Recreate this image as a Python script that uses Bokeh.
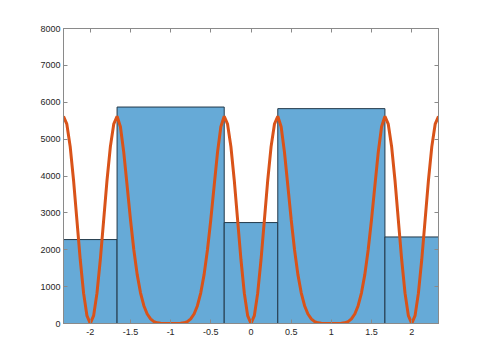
from bokeh.plotting import figure
from bokeh.models import Range1d, LinearAxis, FixedTicker, CustomJSTickFormatter
from bokeh.embed import file_html
from bokeh.resources import INLINE

# Histogram data (non-uniform bin edges)
bin_edges = [-2.3333, -1.6667, -0.3333, 0.3333, 1.6667, 2.3333]
bin_counts = [2276, 5870, 2737, 5827, 2347]

# Overlay curve, values
curve_x = [
    -2.3333, -2.2917, -2.25, -2.2083, -2.1667, -2.125, -2.0833, -2.0417,
    -2.0, -1.9583, -1.9167, -1.875, -1.8333, -1.7917, -1.75, -1.7083,
    -1.6667, -1.625, -1.5833, -1.5417, -1.5, -1.4583, -1.4167, -1.375,
    -1.3333, -1.2917, -1.25, -1.2083, -1.1667, -1.125, -1.0833, -1.0417,
    -1.0, -0.9583, -0.9167, -0.875, -0.8333, -0.7917, -0.75, -0.7083,
    -0.6667, -0.625, -0.5833, -0.5417, -0.5, -0.4583, -0.4167, -0.375,
    -0.3333, -0.2917, -0.25, -0.2083, -0.1667, -0.125, -0.0833, -0.0417,
    0.0,
    0.0417, 0.0833, 0.125, 0.1667, 0.2083, 0.25, 0.2917, 0.3333,
    0.375, 0.4167, 0.4583, 0.5, 0.5417, 0.5833, 0.625, 0.6667,
    0.7083, 0.75, 0.7917, 0.8333, 0.875, 0.9167, 0.9583, 1.0,
    1.0417, 1.0833, 1.125, 1.1667, 1.2083, 1.25, 1.2917, 1.3333,
    1.375, 1.4167, 1.4583, 1.5, 1.5417, 1.5833, 1.625, 1.6667,
    1.7083, 1.75, 1.7917, 1.8333, 1.875, 1.9167, 1.9583, 2.0,
    2.0417, 2.0833, 2.125, 2.1667, 2.2083, 2.25, 2.2917, 2.3333,
]
curve_y = [
    5620, 5406, 4797, 3885, 2810, 1735, 823, 214,
    0, 214, 823, 1735, 2810, 3885, 4797, 5406,
    5620, 5336, 4641, 3741, 2821, 1999, 1332, 832,
    483, 258, 124, 52, 18, 4, 1, 0,
    0, 0, 1, 4, 18, 52, 124, 258,
    483, 832, 1332, 1999, 2821, 3741, 4641, 5336,
    5620, 5406, 4797, 3885, 2810, 1735, 823, 214,
    0,
    214, 823, 1735, 2810, 3885, 4797, 5406, 5620,
    5336, 4641, 3741, 2821, 1999, 1332, 832, 483,
    258, 124, 52, 18, 4, 1, 0, 0,
    0, 1, 4, 18, 52, 124, 258, 483,
    832, 1332, 1999, 2821, 3741, 4641, 5336, 5620,
    5406, 4797, 3885, 2810, 1735, 823, 214, 0,
    214, 823, 1735, 2810, 3885, 4797, 5406, 5620,
]

x_ticks = [-2, -1.5, -1, -0.5, 0, 0.5, 1, 1.5, 2]
x_tick_labels = ["-2", "-1.5", "-1", "-0.5", "0", "0.5", "1", "1.5", "2"]
y_ticks = [0, 1000, 2000, 3000, 4000, 5000, 6000, 7000, 8000]
y_tick_labels = ["0", "1000", "2000", "3000", "4000", "5000", "6000", "7000", "8000"]

FONT = "Liberation Sans"
AXIS_COL = "#8a8a8a"
TEXT_COL = "#262626"

p = figure(width=478, height=359, output_backend="svg", toolbar_location=None,
           x_range=Range1d(bin_edges[0], bin_edges[-1]), y_range=Range1d(0, 8000),
           min_border_left=63, min_border_right=40, min_border_top=28, min_border_bottom=36)
p.background_fill_color = "white"
p.border_fill_color = "white"
p.outline_line_color = AXIS_COL
p.xgrid.visible = False
p.ygrid.visible = False

p.quad(left=bin_edges[:-1], right=bin_edges[1:], top=bin_counts, bottom=0,
       fill_color="#66aad7", line_color="#23394a", line_width=1)
p.line(curve_x, curve_y, line_width=3, line_color="#d95319")

def style(ax, ticks, labels=None):
    ax.ticker = FixedTicker(ticks=ticks)
    ax.minor_tick_line_color = None
    ax.major_tick_in = 4
    ax.major_tick_out = 0
    ax.axis_line_color = AXIS_COL
    ax.major_tick_line_color = AXIS_COL
    ax.major_label_text_font = FONT
    ax.major_label_text_font_size = "9px"
    ax.major_label_text_color = TEXT_COL
    if labels is not None:
        ax.major_label_overrides = {t: l for t, l in zip(ticks, labels)}
    else:
        ax.formatter = CustomJSTickFormatter(code="return ''")

style(p.xaxis[0], x_ticks, x_tick_labels)
p.xaxis[0].major_label_standoff = 5
style(p.yaxis[0], y_ticks, y_tick_labels)
p.yaxis[0].major_label_standoff = 3

top_ax = LinearAxis()
style(top_ax, x_ticks)
p.add_layout(top_ax, "above")
right_ax = LinearAxis()
style(right_ax, y_ticks)
p.add_layout(right_ax, "right")

open("out.html", "w").write(file_html(p, INLINE))
